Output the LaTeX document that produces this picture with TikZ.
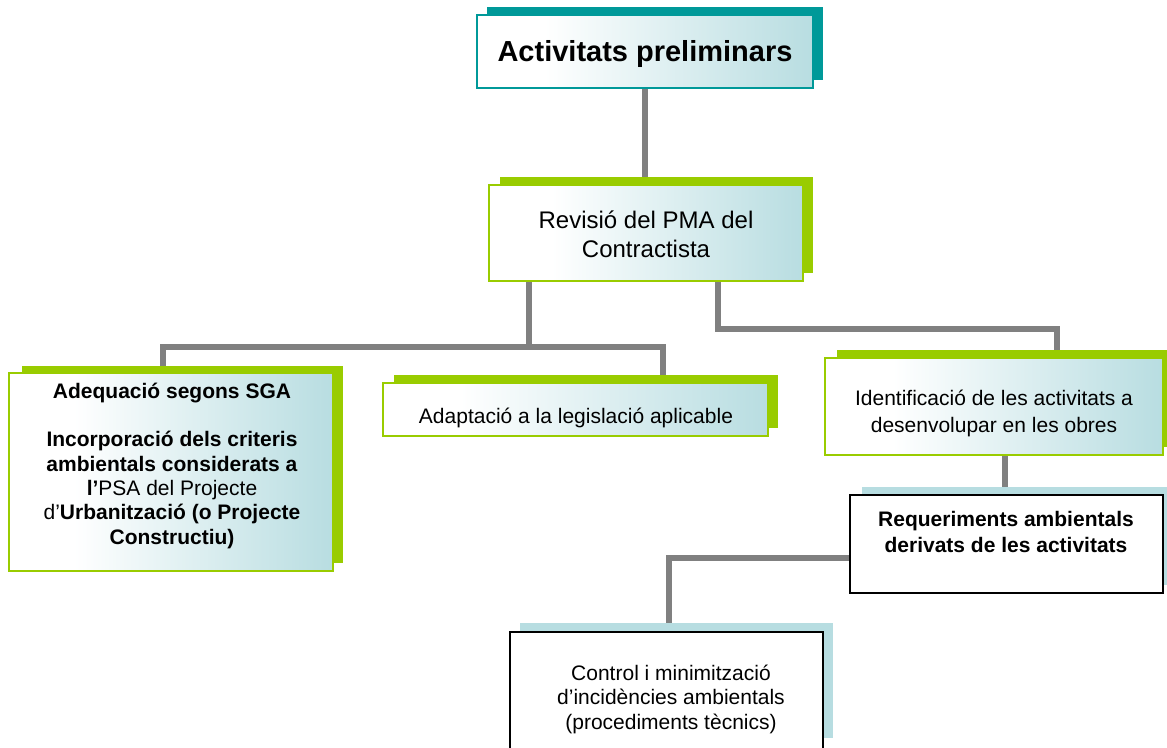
\documentclass[tikz,border=0pt]{standalone}
\usepackage{fontspec}
\setmainfont{Liberation Sans}
\usetikzlibrary{fit,backgrounds}
\definecolor{tealc}{HTML}{009999}
\definecolor{greenc}{HTML}{99CC00}
\definecolor{shadowblue}{HTML}{B7DDE1}
\definecolor{gradblue}{HTML}{B8DDE1}
\definecolor{connc}{HTML}{808080}
\pgfdeclarehorizontalshading{boxshade}{100bp}{color(0bp)=(white); color(35bp)=(white); color(75bp)=(gradblue); color(100bp)=(gradblue)}
\begin{document}
\begin{tikzpicture}[x=1pt,y=-1pt,
  shadowbox/.style={rectangle, inner sep=0pt, outer sep=0pt, fill=#1, draw=none},
  frontbox/.style={rectangle, inner sep=0pt, outer sep=0pt, draw=#1, line width=1.3pt, shade, shading=boxshade},
  plainbox/.style={rectangle, inner sep=0pt, outer sep=0pt, draw=black, line width=1.5pt, fill=white},
  conn/.style={draw=connc, line width=5.5pt, line join=miter},
  lbl/.style={inner sep=0pt, align=center, text=black}]
\useasboundingbox (0,0) rectangle (1167,747);

% Activitats preliminars
\node[shadowbox=tealc, fit={(487,7)(823,80)}] (b1s) {};
\node[frontbox=tealc, fit={(477,15)(813,88)}] (b1) {};
\node[lbl, anchor=base, font=\fontsize{29}{34}\selectfont\bfseries] (t1) at (645,61.5) {Activitats preliminars};

% Revisio
\node[shadowbox=greenc, fit={(500,177)(813,273)}] (b2s) {};
\node[frontbox=greenc, fit={(489,185)(803,281)}] (b2) {};
\node[lbl, font=\fontsize{24}{29}\selectfont] (t2) at (646,234.6) {Revisió del PMA del\\Contractista};

% Adaptacio
\node[shadowbox=greenc, fit={(394,375)(778,428)}] (b3s) {};
\node[frontbox=greenc, fit={(383,383)(768,436)}] (b3) {};
\node[lbl, anchor=base, font=\fontsize{21}{24}\selectfont] (t3) at (576,423) {Adaptació a la legislació aplicable};

% Adequacio
\node[shadowbox=greenc, fit={(22,366)(343,563)}] (b4s) {};
\node[frontbox=greenc, fit={(9,373)(333,571)}] (b4) {};
\node[lbl, font=\fontsize{21}{24.3}\selectfont] (t4) at (172,465.6) {\textbf{Adequació segons SGA}\\[24.3pt]\textbf{Incorporació dels criteris}\\\textbf{ambientals considerats a}\\\textbf{l’}PSA del Projecte\\d’\textbf{Urbanització (o Projecte}\\\textbf{Constructiu)}};

% Identificacio
\node[shadowbox=greenc, fit={(837,350)(1175,447)}] (b5s) {};
\node[frontbox=greenc, fit={(825,358)(1163,455)}] (b5) {};
\node[lbl, font=\fontsize{21}{27}\selectfont] (t5) at (994,413.2) {Identificació de les activitats a\\desenvolupar en les obres};

% Requeriments
\node[shadowbox=shadowblue, fit={(862,487)(1175,585)}] (b6s) {};
\node[plainbox, fit={(850,495)(1163,593)}] (b6) {};
\node[lbl, font=\fontsize{21}{26.5}\selectfont\bfseries] (t6) at (1006,531.9) {Requeriments ambientals\\derivats de les activitats};

% Control
\node[shadowbox=shadowblue, fit={(520,623)(833,738)}] (b7s) {};
\node[plainbox, fit={(510,632)(823,770)}] (b7) {};
\node[lbl, font=\fontsize{21}{24.5}\selectfont] (t7) at (671,699.2) {Control i minimització\\d’incidències ambientals\\(procediments tècnics)};

% connectors
\begin{scope}[on background layer]
\draw[conn] (b1.south) -- (b1.south |- b2s.north);
\draw[conn] ([xshift=-117pt]b2.south) -- ++(0,66) coordinate (j);
\draw[conn] ([xshift=-19.5pt]b4s.north) |- (j) -| ([xshift=77pt]b3s.north);
\draw[conn] ([xshift=72pt]b2.south) -- ++(0,48) -| ([xshift=51pt]b5s.north);
\draw[conn] ([xshift=11pt]b5.south) -- ([xshift=11pt]b5.south |- b6s.north);
\draw[conn] ([yshift=-14pt]b6.west) -| ([xshift=-7.5pt]b7s.north);
\end{scope}
\end{tikzpicture}
\end{document}
